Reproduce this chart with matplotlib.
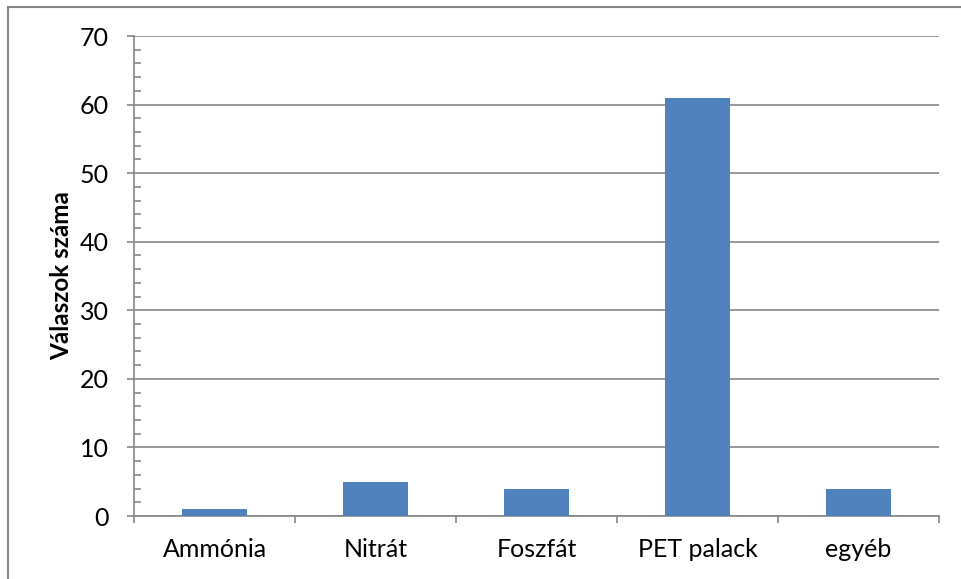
import numpy as np
import matplotlib
matplotlib.use("Agg")
import matplotlib.pyplot as plt
from matplotlib.lines import Line2D
from matplotlib.ticker import MultipleLocator

plt.rcParams['font.family'] = ['Lato', 'DejaVu Sans']

categories = ['Ammónia', 'Nitrát', 'Foszfát', 'PET palack', 'egyéb']
values = [1, 5, 4, 61, 4]
ylabel = 'Válaszok száma'

W, H = 961, 579
fig = plt.figure(figsize=(W / 100, H / 100), dpi=100)
ax = fig.add_axes([134 / W, 1 - 516 / H, (939 - 134) / W, (516 - 36) / H])

grey = '#868686'
x = np.arange(len(categories))
ax.bar(x, values, width=0.4, color='#4F81BD', zorder=3)

ax.set_xlim(-0.5, len(categories) - 0.5)
ax.set_ylim(0, 70)
ax.yaxis.set_major_locator(MultipleLocator(10))
ax.yaxis.set_minor_locator(MultipleLocator(2))
ax.grid(axis='y', which='major', color=grey, linewidth=1.2, zorder=0)

# category boundary ticks on x axis
ax.set_xticks(np.arange(-0.5, len(categories)), minor=False)
ax.set_xticklabels([])
ax.set_xticks(x, minor=True)
ax.set_xticklabels(categories, minor=True)
ax.tick_params(axis='x', which='major', direction='out', length=5, width=1.2, color=grey)
ax.tick_params(axis='x', which='minor', length=0, pad=16, labelsize=18)
ax.tick_params(axis='y', which='major', direction='out', length=5, width=1.2, color=grey, labelsize=18, pad=13)
ax.tick_params(axis='y', which='minor', direction='in', length=5, width=1.2, color=grey)

for s in ['top', 'right']:
    ax.spines[s].set_visible(False)
for s in ['left', 'bottom']:
    ax.spines[s].set_color(grey)
    ax.spines[s].set_linewidth(1.2)

ax.set_ylabel(ylabel, fontsize=17.5, fontweight='bold', labelpad=5)

# outer chart border (top and left edges visible)
fig.add_artist(Line2D([8 / W, 1], [1 - 7 / H, 1 - 7 / H], color=grey, linewidth=1.5))
fig.add_artist(Line2D([8 / W, 8 / W], [1 - 7 / H, 0], color=grey, linewidth=1.5))

fig.savefig('out.png', dpi=100)
